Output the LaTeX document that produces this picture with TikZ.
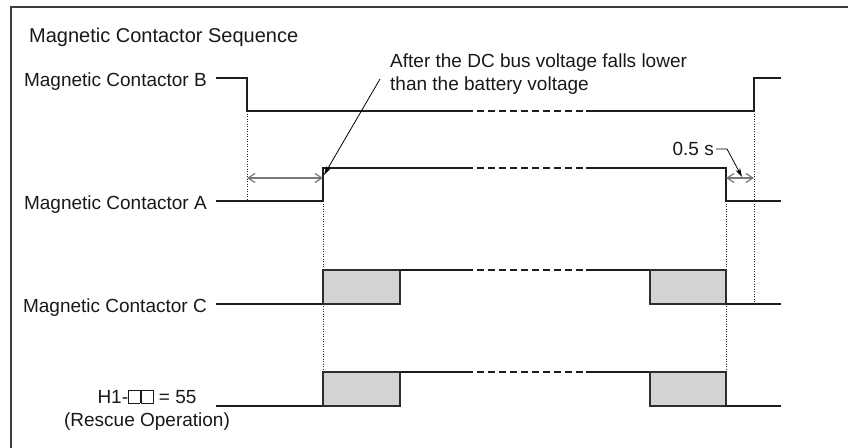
\documentclass[tikz,border=0pt]{standalone}
\usepackage{fontspec}
\setmainfont{Liberation Sans}
\usetikzlibrary{arrows.meta}
\definecolor{sigc}{RGB}{30,30,30}
\definecolor{boxc}{RGB}{45,45,45}
\definecolor{pulsefill}{RGB}{210,211,213}
\definecolor{framec}{RGB}{60,60,60}
\definecolor{spanc}{RGB}{120,120,120}
\newcommand{\wsq}{{\setlength{\fboxsep}{0pt}\setlength{\fboxrule}{0.9pt}\fbox{\rule{0pt}{12.5pt}\hspace{10.5pt}}}}
\begin{document}
\begin{tikzpicture}[x=1pt,y=-1pt,
  sig/.style={line width=1.4pt, draw=sigc},
  gapline/.style={line width=1.4pt, draw=sigc, dash pattern=on 7pt off 4pt},
  guide/.style={line width=0.7pt, draw=black!85, dash pattern=on 1.2pt off 1.3pt},
  pulse/.style={line width=1.4pt, draw=boxc, fill=pulsefill},
  span/.style={line width=1.2pt, draw=spanc, {Straight Barb[length=7pt,width=9pt]}-{Straight Barb[length=7pt,width=9pt]}},
  callout/.style={line width=0.8pt, draw=black, -{Stealth[length=9pt,width=5pt]}},
  lbl/.style={font=\fontsize{19}{23}\selectfont, inner sep=0pt, text=black!90},
]
\clip (0,0) rectangle (848,447);
\useasboundingbox (0,0) rectangle (848,447);
\fill[white] (0,0) rectangle (848,447);
\draw[line width=1.5pt, draw=framec] (11,470) -- (11,7) -- (870,7);

\node[lbl, font=\fontsize{20}{24}\selectfont, anchor=base west] (title) at (29,42) {Magnetic Contactor Sequence};

% labels
\node[lbl, anchor=base east] (labB) at (207,86) {Magnetic Contactor B};
\node[lbl, anchor=base east] (labA) at (207,209) {Magnetic Contactor A};
\node[lbl, anchor=base east] (labC) at (207,312) {Magnetic Contactor C};
\node[lbl, anchor=base] (labH) at (147,403) {H1-\wsq\hspace{1pt}\wsq{} = 55};
\node[lbl, anchor=base] (labR) at (147,426) {(Rescue Operation)};

% guides (dotted)
\draw[guide] (247,111) -- (247,201);
\draw[guide] (323,201) -- (323,372);
\draw[guide] (726,201) -- (726,372);
\draw[guide] (754,111) -- (754,304);

% Magnetic Contactor B
\draw[sig] (216,78) -- (247,78) -- (247,111) -- (466,111);
\draw[gapline] (466,111) -- (586,111);
\draw[sig] (586,111) -- (754,111) -- (754,78) -- (781,78);

% Magnetic Contactor A
\draw[sig] (216,201) -- (323,201) -- (323,168) -- (466,168);
\draw[gapline] (466,168) -- (586,168);
\draw[sig] (586,168) -- (726,168) -- (726,201) -- (781,201);

% Magnetic Contactor C
\draw[sig] (216,304) -- (323,304);
\draw[pulse] (323,270) rectangle (400,304);
\draw[sig] (400,270) -- (466,270);
\draw[gapline] (466,270) -- (586,270);
\draw[sig] (586,270) -- (650,270);
\draw[pulse] (650,270) rectangle (726,304);
\draw[sig] (726,304) -- (781,304);

% H1 rescue operation
\draw[sig] (216,406) -- (323,406);
\draw[pulse] (323,372) rectangle (400,406);
\draw[sig] (400,372) -- (466,372);
\draw[gapline] (466,372) -- (586,372);
\draw[sig] (586,372) -- (650,372);
\draw[pulse] (650,372) rectangle (726,406);
\draw[sig] (726,406) -- (781,406);

% spans
\coordinate (s1a) at (247,178);
\coordinate (s1b) at (323,178);
\coordinate (s2a) at (726,178);
\coordinate (s2b) at (754,178);
\draw[span] (s1a) -- (s1b);
\draw[span] (s2a) -- (s2b);

% annotation
\node[lbl, anchor=base west] (note1) at (390,67) {After the DC bus voltage falls lower};
\node[lbl, anchor=base west] (note2) at (390,90) {than the battery voltage};
\coordinate (cstart) at (380,79);
\coordinate (ctip) at (324,175);
\draw[callout] (cstart) -- (ctip);

\node[lbl, anchor=base east] (half) at (714,155) {0.5 s};
\coordinate (hk) at (727,149);
\coordinate (htip) at (742,177);
\draw[callout] (half.east |- hk) ++(2,0) -- (hk) -- (htip);
\end{tikzpicture}
\end{document}
